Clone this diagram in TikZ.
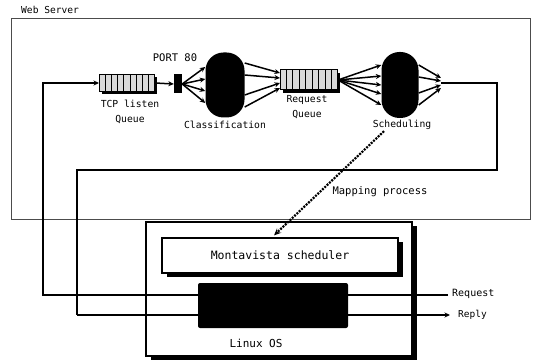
\documentclass[tikz,border=0pt]{standalone}
\usepackage{fontspec}
\setmonofont{DejaVu Sans Mono}
\usetikzlibrary{positioning, calc, arrows.meta, shadows}

\begin{document}
\begin{tikzpicture}[
        x=1pt, y=-1pt,
        every node/.style={font=\ttfamily\fontsize{10}{12}\selectfont},
        flow/.style={line width=1.5pt, -{Stealth[length=5.5pt, width=5pt]}},
        wire/.style={line width=1.4pt},
        frame/.style={rectangle, draw=black!70, line width=0.8pt, inner sep=0pt},
        osbox/.style={rectangle, draw, fill=white, line width=1.2pt, inner sep=0pt,
            drop shadow={shadow xshift=5pt, shadow yshift=-4pt, fill=black, opacity=1}},
        queuebox/.style={rectangle, draw, line width=1pt, fill=gray!30, inner sep=0pt,
            minimum height=17pt, drop shadow={shadow xshift=2pt, shadow yshift=-3pt, fill=black, opacity=1}},
        blob/.style={rectangle, fill=black, rounded corners=18pt, minimum width=39pt, minimum height=65pt},
        caption/.style={align=center, inner sep=0pt, font=\ttfamily\fontsize{9.7}{15}\selectfont}
    ]
    \useasboundingbox (0,0) rectangle (535,363);

    % web server frame
    \node[anchor=west, inner sep=0pt, font=\ttfamily\fontsize{9.6}{11}\selectfont] (title) at (21,10) {Web Server};
    \node[frame, minimum width=519pt, minimum height=201pt] (web) at (270.5,118.5) {};

    % queues and stages
    \node[queuebox, minimum width=55pt] (tcpq) at (127,83) {};
    \node[queuebox, minimum width=57pt, minimum height=20pt] (reqq) at (309,80) {};
    \foreach \q in {tcpq, reqq}
        \foreach \i in {1,...,8}
            \draw[line width=0.9pt] ($(\q.north west)!\i/9!(\q.north east)$) -- ($(\q.south west)!\i/9!(\q.south east)$);
    \node[fill=black, minimum width=8pt, minimum height=19pt, inner sep=0pt] (port) at (178,84) {};
    \node[blob] (class) at (225,85) {};
    \node[blob, minimum width=37pt, minimum height=66pt] (sched) at (400,85) {};
    \coordinate (fanout) at (441,83);

    \node[font=\ttfamily\fontsize{10.5}{12}\selectfont, inner sep=0pt] (portlbl) at (175,58) {PORT 80};
    \node[caption] (tcplbl) at (130,112) {TCP listen\\Queue};
    \node[caption] (classlbl) at (225,125) {Classification};
    \node[caption] (reqlbl) at (307,107) {Request\\Queue};
    \node[caption] (schedlbl) at (402,125) {Scheduling};

    \draw[flow] (tcpq.east) -- (port.west);
    \foreach \dy in {-18,-6,6,18}
        \draw[flow] (port.east) -- ($(class.west)+(0,\dy)$);
    \foreach \dy/\ey in {-22/-7,-10/-2,10/3,22/8}
        \draw[flow] ($(class.east)+(0,\dy)$) -- ($(reqq.west)+(0,\ey)$);
    \foreach \ey in {-20,-9,0,9,20}
        \draw[flow] (reqq.east) -- ($(sched.west)+(0,\ey)$);
    \foreach \dy/\ey in {-20/-5,-8/-2,8/2,20/5}
        \draw[flow] ($(sched.east)+(0,\dy)$) -- ($(fanout)+(0,\ey)$);

    % linux box
    \node[osbox, minimum width=266pt, minimum height=134pt] (linux) at (279,289) {};

    % request and reply paths
    \coordinate (reqin) at (448,295);
    \coordinate (lcorner) at (43,295);
    \coordinate (rc1) at (497,170);
    \coordinate (rc2) at (77,170);
    \coordinate (rc3) at (77,315);
    \coordinate (replyout) at (450,315);
    \draw[flow] (reqin) -- (lcorner) |- (tcpq.west);
    \draw[wire] (fanout) -| (rc1) -- (rc2) -- (rc3);
    \draw[flow] (rc3) -- (replyout);
    \node[anchor=west, inner sep=0pt] (reqlabel) at (452,294) {Request};
    \node[anchor=west, inner sep=0pt, font=\ttfamily\fontsize{9.5}{11}\selectfont] (replylabel) at (458,315) {Reply};

    \node[fill=black, rounded corners=2pt, minimum width=150pt, minimum height=45pt, inner sep=0pt] (core) at (273,305.5) {};
    \node[osbox, minimum width=236pt, minimum height=35pt, font=\ttfamily\fontsize{11.5}{13}\selectfont] (monta) at (280,255.5) {Montavista scheduler};
    \node[font=\ttfamily\fontsize{11}{13}\selectfont, inner sep=0pt] (oslabel) at (256,343) {Linux OS};

    % mapping
    \draw[line width=2.2pt, dash pattern=on 2pt off 1.2pt, -{Stealth[length=7pt, width=6pt]}]
        ($(sched.south)+(-16,13)$) -- ($(monta.north)+(-6,-2)$);
    \node[font=\ttfamily\fontsize{10.5}{12}\selectfont, inner sep=0pt] (maplbl) at (380,192) {Mapping process};
\end{tikzpicture}
\end{document}
